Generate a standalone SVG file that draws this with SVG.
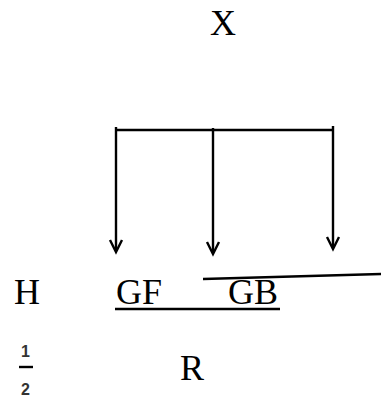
<svg xmlns="http://www.w3.org/2000/svg" width="381" height="399" viewBox="0 0 381 399">
<style>
.t{font-family:"Liberation Serif","Times New Roman",serif;font-size:36px;fill:#000}
.f{font-family:"Liberation Sans",Arial,sans-serif;font-size:16px;font-weight:bold;fill:#333}
.ln{stroke:#000;stroke-width:2.4;fill:none;stroke-linecap:butt}
</style>
<rect width="381" height="399" fill="#fff"/>
<g id="node-X"><text class="t" x="210" y="35">X</text></g>
<g id="node-H"><text class="t" x="14" y="304">H</text></g>
<g id="node-GF"><text class="t" x="116" y="304">GF</text></g>
<g id="node-GB"><text class="t" x="228" y="304">GB</text></g>
<g id="node-R"><text class="t" x="180" y="380">R</text></g>
<g id="node-half">
<text class="f" x="25.5" y="357" text-anchor="middle">1</text>
<line class="ln" x1="19" y1="367" x2="33" y2="367" stroke="#333"/>
<text class="f" x="25.5" y="395" text-anchor="middle">2</text>
</g>
<g id="connectors">
<line class="ln" x1="115" y1="130" x2="334" y2="130"/>
<line class="ln" x1="116" y1="127" x2="116" y2="251"/>
<line class="ln" x1="213" y1="128" x2="213" y2="253"/>
<line class="ln" x1="333" y1="126" x2="333" y2="248"/>
<polyline class="ln" points="110,240 116,252 122,240"/>
<polyline class="ln" points="207,242 213,254 219,242"/>
<polyline class="ln" points="327,237 333,249 339,237"/>
<line class="ln" x1="115" y1="309" x2="280" y2="309"/>
<line class="ln" x1="203" y1="279" x2="381" y2="274"/>
</g>
</svg>
